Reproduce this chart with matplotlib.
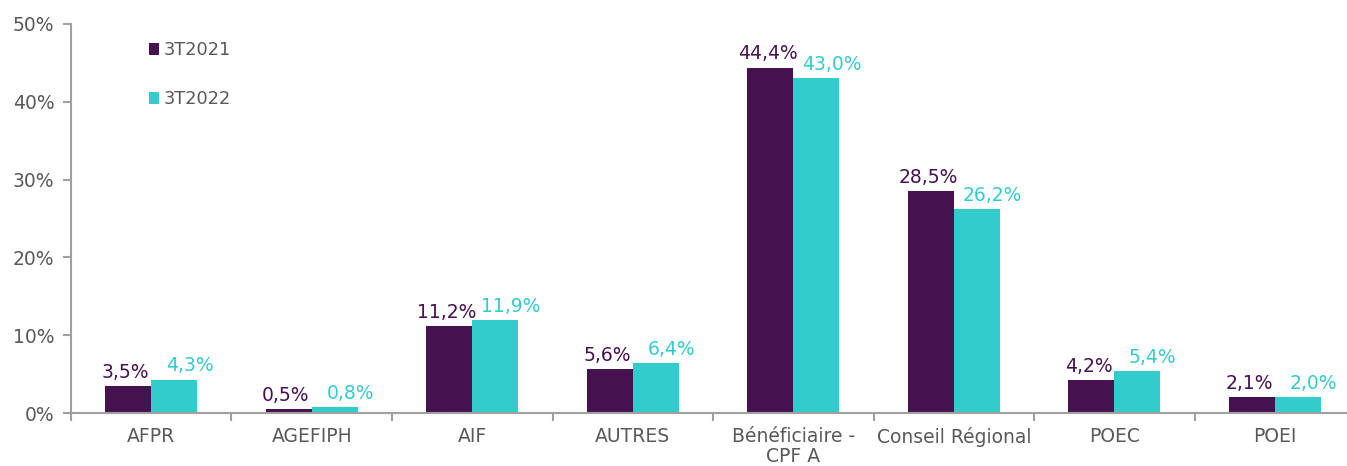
import numpy as np
import matplotlib.pyplot as plt

categories = ["AFPR", "AGEFIPH", "AIF", "AUTRES", "Bénéficiaire -\nCPF A",
              "Conseil Régional", "POEC", "POEI"]
s2021 = [3.5, 0.5, 11.2, 5.6, 44.4, 28.5, 4.2, 2.1]
s2022 = [4.3, 0.8, 11.9, 6.4, 43.0, 26.2, 5.4, 2.0]
yticks = [0, 10, 20, 30, 40, 50]

purple = "#46114F"
cyan = "#33CCCC"
grey_txt = "#595959"
grey_ax = "#A0A0A0"

fig = plt.figure(figsize=(13.47, 4.66), dpi=100)
ax = fig.add_axes([0.0527, 0.1137, 0.9533, 0.8348])

x = np.arange(len(categories))
w = 0.287
b1 = ax.bar(x - w / 2, s2021, w, color=purple, label="3T2021")
b2 = ax.bar(x + w / 2, s2022, w, color=cyan, label="3T2022")

for rect, v in zip(b1, s2021):
    ax.annotate(f"{v:.1f}%".replace(".", ","),
                (rect.get_x() + rect.get_width() / 2, rect.get_height()),
                xytext=(-2, 3), textcoords="offset points",
                ha="center", va="bottom", fontsize=13.5, color=purple)
for rect, v in zip(b2, s2022):
    ax.annotate(f"{v:.1f}%".replace(".", ","),
                (rect.get_x() + rect.get_width() / 2, rect.get_height()),
                xytext=(11, 3), textcoords="offset points",
                ha="center", va="bottom", fontsize=13.5, color=cyan)

ax.set_xlim(-0.5, len(categories) - 0.5)
ax.set_ylim(0, 50)
ax.set_yticks(yticks)
ax.set_yticklabels([f"{t}%" for t in yticks])
ax.set_xticks(x)
ax.set_xticklabels(categories, linespacing=1.05)
ax.set_xticks(np.arange(len(categories) + 1) - 0.5, minor=True)
ax.tick_params(axis="x", which="major", length=0, pad=10, labelsize=13.5,
               labelcolor=grey_txt)
ax.tick_params(axis="x", which="minor", length=6, width=1.5, color=grey_ax,
               direction="out")
ax.tick_params(axis="y", length=6, width=1.5, color=grey_ax, pad=6,
               labelsize=13.5, labelcolor=grey_txt)

for side in ["top", "right"]:
    ax.spines[side].set_visible(False)
for side in ["left", "bottom"]:
    ax.spines[side].set_color(grey_ax)
    ax.spines[side].set_linewidth(1.5)

leg = ax.legend(loc="upper left", bbox_to_anchor=(0.048, 0.997), frameon=False,
                handlelength=0.6, handleheight=0.6, handletextpad=0.25,
                labelspacing=1.75, fontsize=12.8)
for t in leg.get_texts():
    t.set_color(grey_txt)

fig.savefig("out.png", dpi=100)
